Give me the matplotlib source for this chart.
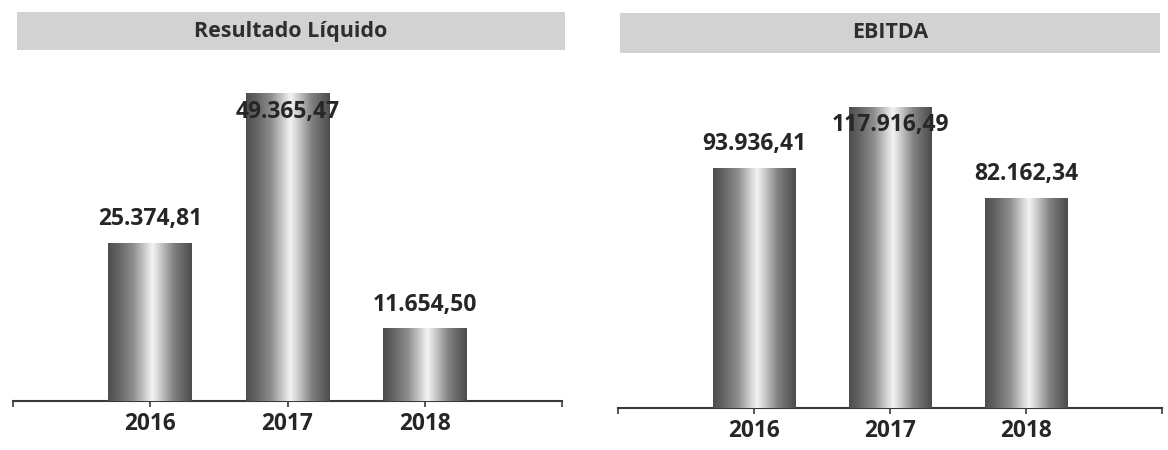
import matplotlib
matplotlib.use("Agg")
import matplotlib.pyplot as plt
import numpy as np
from matplotlib.colors import LinearSegmentedColormap
from matplotlib.patches import Rectangle
from matplotlib import font_manager as fm

chosen = "DejaVu Sans"
for fam in ["Noto Sans", "Open Sans", "Lato", "Roboto", "Liberation Sans"]:
    try:
        path = fm.findfont(fm.FontProperties(family=fam, weight="bold"), fallback_to_default=False)
        if "bold" in path.lower() or "black" in path.lower():
            chosen = fam
            break
    except Exception:
        pass
plt.rcParams['font.family'] = [chosen, 'DejaVu Sans']

# ---- data ----
years = ["2016", "2017", "2018"]
resultado_liquido = [25374.81, 49365.47, 11654.50]
ebitda = [93936.41, 117916.49, 82162.34]
titles = ["Resultado Líquido", "EBITDA"]
value_labels_rl = ["25.374,81", "49.365,47", "11.654,50"]
value_labels_eb = ["93.936,41", "117.916,49", "82.162,34"]

W, H = 1168, 450
fig = plt.figure(figsize=(W / 100, H / 100), dpi=100)
fig.patch.set_facecolor("white")

cyl = LinearSegmentedColormap.from_list(
    "cyl",
    [(0.0, "#4e4e4e"), (0.12, "#636363"), (0.30, "#8e8e8e"),
     (0.45, "#d0d0d0"), (0.53, "#f4f4f4"), (0.62, "#cdcdcd"),
     (0.78, "#828282"), (0.92, "#5e5e5e"), (1.0, "#4c4c4c")])
grad = np.linspace(0, 1, 256).reshape(1, -1)


def px_axes(x0, x1, ytop, ybot):
    return fig.add_axes([x0 / W, 1 - ybot / H, (x1 - x0) / W, (ybot - ytop) / H])


def draw_panel(ax, values, labels, ymax, title, band):
    x = np.arange(len(values))
    bars = ax.bar(x, values, width=0.61, color="#777777", edgecolor="none", zorder=2)
    for b in bars:
        x0, y0 = b.get_x(), b.get_y()
        im = ax.imshow(grad, cmap=cyl, aspect="auto", interpolation="bicubic",
                       extent=(x0, x0 + b.get_width(), y0, y0 + b.get_height()),
                       zorder=3)
        im.set_clip_path(b)
    ax.set_xlim(-1, 3)
    ax.set_ylim(0, ymax)
    for v, xi, lab in zip(values, x, labels):
        inside = v / ymax > 0.8
        off = -13.5 if inside else 17
        ax.annotate(lab, xy=(xi, v), xytext=(0, off), textcoords="offset points",
                    ha="center", va="center", fontsize=16.5, fontweight="bold",
                    color="#262626", zorder=5)
    for s in ["top", "right", "left"]:
        ax.spines[s].set_visible(False)
    ax.spines["bottom"].set_color("#3a3a3a")
    ax.spines["bottom"].set_linewidth(1.5)
    ax.set_yticks([])
    ax.set_xticks([-1, 0, 1, 2, 3])
    ax.set_xticklabels([""] + years + [""])
    ax.tick_params(axis="x", length=4, width=1.2, color="#3a3a3a", pad=4,
                   labelsize=16.3, labelcolor="#262626")
    for t in ax.get_xticklabels():
        t.set_fontweight("bold")
    ax.set_facecolor("none")
    # title band
    bx0, bx1, by0, by1 = band
    fig.patches.append(Rectangle((bx0 / W, 1 - by1 / H), (bx1 - bx0) / W, (by1 - by0) / H,
                                 transform=fig.transFigure, facecolor="#d2d2d2",
                                 edgecolor="none", zorder=0))
    fig.text((bx0 + bx1) / 2 / W, 1 - (by0 + by1) / 2 / H, title, ha="center", va="center",
             fontsize=15.5, fontweight="bold", color="#2e2e2e")


ax1 = px_axes(13, 562, 60, 401)
draw_panel(ax1, resultado_liquido, value_labels_rl, 54700, titles[0], (17, 565, 12, 50))
ax2 = px_axes(618, 1162, 60, 408)
draw_panel(ax2, ebitda, value_labels_eb, 136150, titles[1], (620, 1160, 13, 53))

fig.savefig("out.png", dpi=100, facecolor="white")
